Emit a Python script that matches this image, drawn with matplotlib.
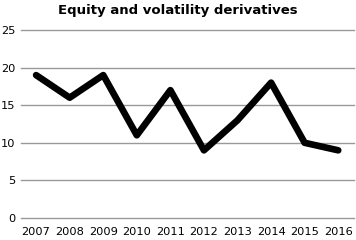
import matplotlib
matplotlib.use("Agg")
import matplotlib.pyplot as plt

years = ["2007", "2008", "2009", "2010", "2011", "2012", "2013", "2014", "2015", "2016"]
values = [19, 16, 19, 11, 17, 9, 13, 18, 10, 9]
yticks = [0, 5, 10, 15, 20, 25]

plt.rcParams["font.family"] = ["DejaVu Sans"]

fig = plt.figure(figsize=(3.56, 2.4), dpi=100)
ax = fig.add_axes([21 / 356, 22 / 240, 333 / 356, 188 / 240])

x = list(range(len(years)))
ax.plot(x, values, color="black", linewidth=4.8, solid_joinstyle="round",
        solid_capstyle="round", zorder=3)

ax.set_xlim(-0.45, len(years) - 1 + 0.47)
ax.set_ylim(0, 25)
ax.set_yticks(yticks)
ax.set_xticks(x)
ax.set_xticklabels(years)
ax.yaxis.grid(True, color="#999999", linewidth=1)
for gl in ax.get_ygridlines():
    gl.set_clip_on(False)
ax.set_axisbelow(True)
for s in ax.spines.values():
    s.set_visible(False)
ax.tick_params(length=0, labelsize=8.2, colors="black")
ax.tick_params(axis="y", pad=4)
ax.tick_params(axis="x", pad=6.5)

fig.text(0.5, 0.985, "Equity and volatility derivatives", ha="center", va="top",
         fontsize=9.5, fontweight="bold")

fig.savefig("out.png", dpi=100)
